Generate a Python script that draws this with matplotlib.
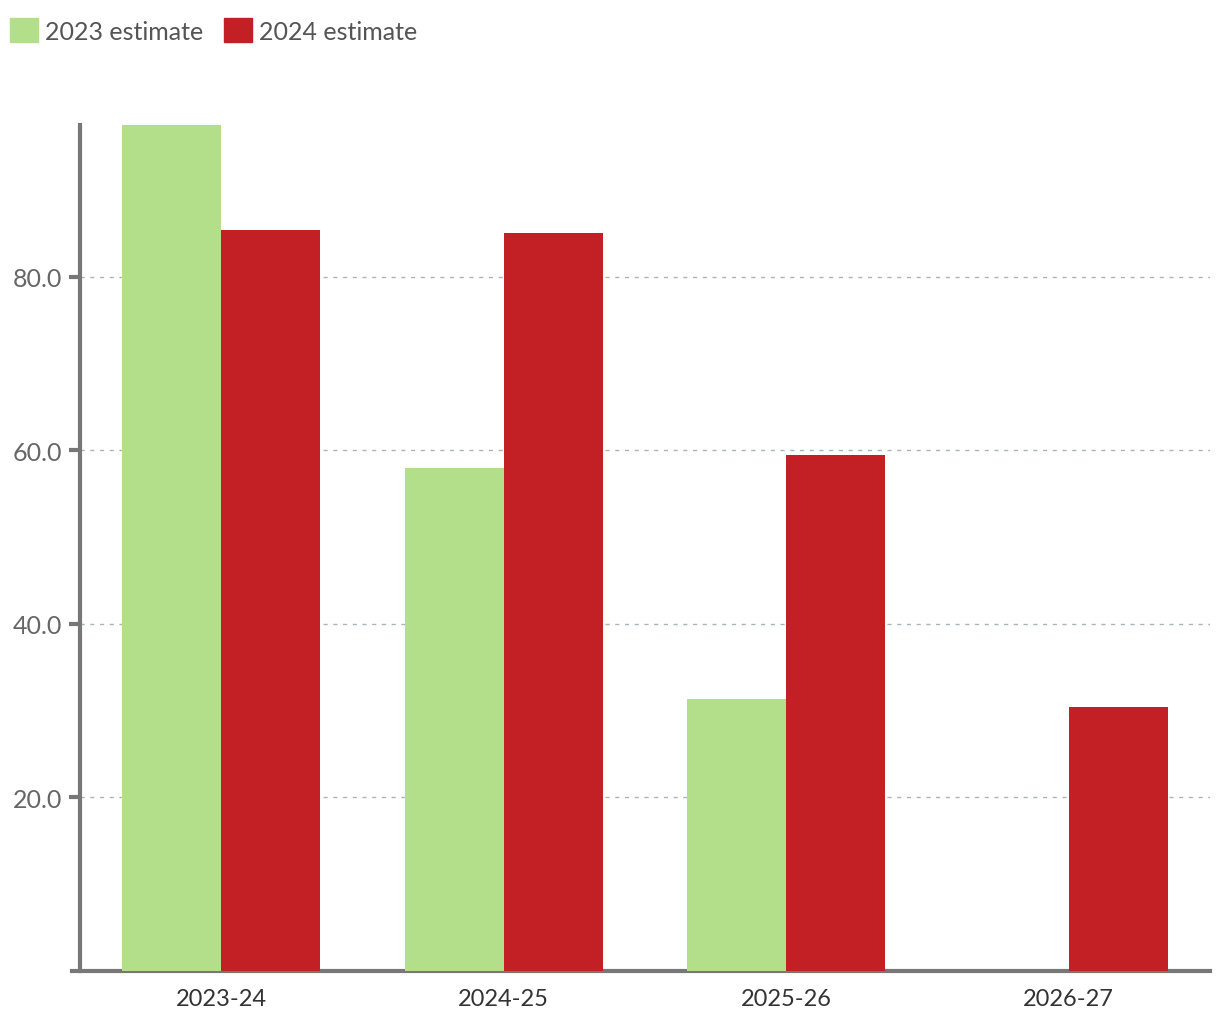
import numpy as np
import matplotlib
matplotlib.use("Agg")
import matplotlib.pyplot as plt
from matplotlib.patches import Patch

# ---------------------------------------------------------------- #
# data
categories = ["2023-24", "2024-25", "2025-26", "2026-27"]
est_2023 = [97.5, 58.0, 31.4, 0.0]
est_2024 = [85.4, 85.0, 59.5, 30.4]
series_names = ["2023 estimate", "2024 estimate"]
y_ticks = [20, 40, 60, 80]

green = "#b3df8a"
red = "#c32026"
axis_grey = "#777777"

plt.rcParams['font.family'] = ['Lato', 'DejaVu Sans']

fig = plt.figure(figsize=(12.2, 10.2), dpi=100)
ax = fig.add_axes([80/1220, 48/1020, 1130/1220, 846/1020])

x = np.arange(len(categories))
w = 0.35
ax.bar(x - w/2, est_2023, width=w, color=green, zorder=3)
ax.bar(x + w/2, est_2024, width=w, color=red, zorder=3)

ax.set_xlim(-0.5, len(categories) - 0.5)
ax.set_ylim(0, 97.5)
ax.set_xticks(x)
ax.set_xticklabels(categories, fontsize=17, color="#333333")
ax.set_yticks(y_ticks)
ax.set_yticklabels([f"{v:.1f}" for v in y_ticks], fontsize=18, color="#666666")
ax.tick_params(axis='x', length=0, pad=12)
ax.tick_params(axis='y', length=8, width=3, color=axis_grey, pad=5)

# grid lines
ax.yaxis.grid(True, linestyle=(0, (3, 4)), color="#aab4b8", linewidth=1, zorder=1)

for side in ["top", "right"]:
    ax.spines[side].set_visible(False)
ax.spines["left"].set_color(axis_grey)
ax.spines["left"].set_linewidth(3)
ax.spines["bottom"].set_color(axis_grey)
ax.spines["bottom"].set_linewidth(3)
ax.spines["bottom"].set_bounds(-0.5 - 8/282.5, len(categories) - 0.5)

# legend at top-left
handles = [Patch(color=green), Patch(color=red)]
fig.legend(handles, series_names, loc="upper left", bbox_to_anchor=(10/1220, 1 - 19/1020),
           ncol=2, frameon=False, fontsize=18, labelcolor="#555555",
           handlelength=1.12, handleheight=1.12, handletextpad=0.28,
           columnspacing=0.84, borderaxespad=0, borderpad=0)

fig.savefig("out.png", dpi=100)
